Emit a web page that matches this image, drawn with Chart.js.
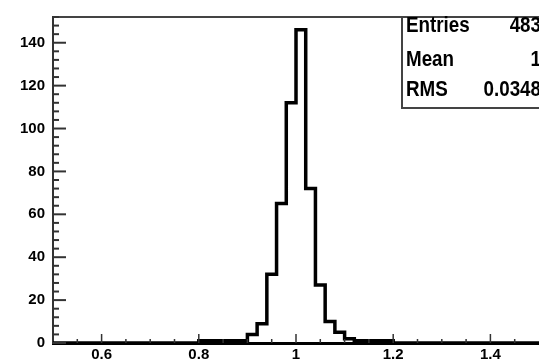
<!DOCTYPE html>
<html>
<head>
<meta charset="utf-8">
<script src="https://cdn.jsdelivr.net/npm/chart.js@4.4.1/dist/chart.umd.min.js"></script>
<style>
  html, body { margin: 0; padding: 0; background: #fff; }
</style>
</head>
<body>
<canvas id="chart" width="539" height="364"></canvas>
<script>
// histogram, 50 bins of 0.02 between 0.5 and 1.5
const xMin = 0.5;
const xMax = 1.5;
const binWidth = 0.02;
const counts = [
  0, 0, 0, 0, 0, 0, 0, 0, 0, 0,          // 0.50 - 0.70
  0, 0, 0, 0, 0, 1, 1, 1, 1, 1,          // 0.70 - 0.90
  4, 9, 32, 65, 112, 146, 72, 27, 10, 5, // 0.90 - 1.10
  2, 1, 1, 1, 1, 0, 0, 0, 0, 0,          // 1.10 - 1.30
  0, 0, 0, 0, 0, 0, 0, 0, 0, 0           // 1.30 - 1.50
];
const xTickValues = [0.6, 0.8, 1, 1.2, 1.4];
const yTickValues = [0, 20, 40, 60, 80, 100, 120, 140];
const yMax = 152;
const statNames = ["Entries", "Mean", "RMS"];
const statValues = ["483", "1", "0.0348"];

const family = "'Liberation Sans', Arial, Helvetica, sans-serif";

// left edge of every bin, plus the closing edge
const points = counts.map((c, i) => ({ x: xMin + i * binWidth, y: c }));
points.push({ x: xMax, y: counts[counts.length - 1] });

const histFrame = {
  id: "histFrame",
  afterDraw(chart) {
    const { ctx, chartArea: a } = chart;
    const x = chart.scales.x, y = chart.scales.y;
    ctx.save();

    // top frame line
    ctx.strokeStyle = "#444";
    ctx.lineWidth = 2;
    ctx.beginPath();
    ctx.moveTo(a.left, a.top);
    ctx.lineTo(a.right, a.top);
    ctx.stroke();

    // y ticks, drawn inside the frame (major every 20, minor every 4)
    ctx.strokeStyle = "#333";
    ctx.lineWidth = 2;
    for (let v = 0; v <= yMax; v += 4) {
      const py = y.getPixelForValue(v);
      const len = v % 20 === 0 ? 13 : 6;
      ctx.beginPath();
      ctx.moveTo(a.left, py);
      ctx.lineTo(a.left + len, py);
      ctx.stroke();
    }

    // x ticks (major every 0.2, minor every 0.05)
    ctx.lineWidth = 1.5;
    for (let i = 1; i < 20; i++) {
      const px = x.getPixelForValue(xMin + i * 0.05);
      const len = i % 4 === 2 ? 9 : 4;
      ctx.beginPath();
      ctx.moveTo(px, a.bottom);
      ctx.lineTo(px, a.bottom - len);
      ctx.stroke();
    }

    // stats box
    const bx = 402, bb = 108;
    ctx.fillStyle = "#fff";
    ctx.fillRect(bx, a.top + 1, chart.width - bx, bb - a.top - 1);
    ctx.strokeStyle = "#444";
    ctx.lineWidth = 2;
    ctx.beginPath();
    ctx.moveTo(bx, a.top);
    ctx.lineTo(bx, bb);
    ctx.lineTo(chart.width, bb);
    ctx.stroke();

    ctx.fillStyle = "#000";
    ctx.font = "bold 20px " + family;
    ctx.textBaseline = "middle";
    const rows = [26, 60, 90];
    statNames.forEach((name, i) => {
      ctx.save();
      ctx.translate(406, rows[i]);
      ctx.scale(0.94, 1.08);
      ctx.textAlign = "left";
      ctx.fillText(name, 0, 0);
      ctx.restore();
      ctx.save();
      ctx.translate(541, rows[i]);
      ctx.scale(0.94, 1.08);
      ctx.textAlign = "right";
      ctx.fillText(statValues[i], 0, 0);
      ctx.restore();
    });
    ctx.restore();
  }
};

new Chart(document.getElementById("chart"), {
  type: "line",
  data: {
    datasets: [{
      data: points,
      stepped: "before",
      borderColor: "#000",
      borderWidth: 3.5,
      pointRadius: 0,
      fill: false
    }]
  },
  options: {
    responsive: false,
    animation: false,
    events: [],
    layout: { padding: { top: 11, left: 0, right: 0, bottom: 0 } },
    plugins: {
      legend: { display: false },
      tooltip: { enabled: false }
    },
    scales: {
      x: {
        type: "linear",
        min: xMin,
        max: xMax,
        afterBuildTicks: s => { s.ticks = xTickValues.map(v => ({ value: v })); },
        afterFit: s => { s.height = 21; },
        grid: { display: false, drawTicks: false },
        border: { display: true, color: "#000", width: 3 },
        ticks: {
          padding: 3,
          color: "#000",
          autoSkip: false,
          maxRotation: 0,
          font: { family: family, size: 15, weight: "bold" },
          callback: v => String(v)
        }
      },
      y: {
        min: 0,
        max: yMax,
        afterBuildTicks: s => { s.ticks = yTickValues.map(v => ({ value: v })); },
        afterFit: s => { s.width = 53; },
        grid: { display: false, drawTicks: false },
        border: { display: true, color: "#333", width: 2 },
        ticks: {
          padding: 8,
          color: "#000",
          font: { family: family, size: 15, weight: "bold" },
          callback: v => String(v)
        }
      }
    }
  },
  plugins: [histFrame]
});
</script>
</body>
</html>
